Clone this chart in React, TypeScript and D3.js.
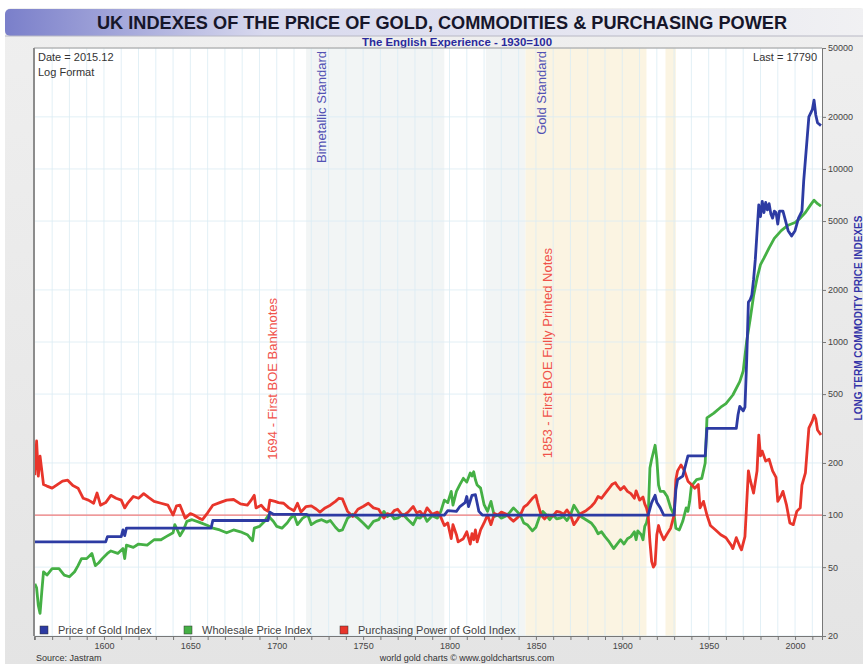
import React, { useEffect, useRef } from 'react';
import * as d3 from 'd3';

// [year, index value] readings, 1930 = 100
const goldIndex: [number, number][] = [
  [1560, 70], [1601, 70], [1602, 75], [1610, 75], [1611, 82], [1612, 76], [1613, 84], [1662, 84],
  [1663, 93], [1695, 93], [1696, 104], [1698, 101], [1717, 101], [1718, 100], [1797, 100],
  [1799, 106], [1804, 105], [1806, 112], [1809, 118], [1810, 128], [1811, 112], [1813, 130],
  [1815, 131], [1817, 105], [1819, 100], [1915, 100], [1917, 118], [1919, 130], [1920, 118],
  [1922, 110], [1924, 100], [1930, 100], [1931, 140], [1932, 160], [1935, 168], [1938, 220],
  [1948, 220], [1949, 317], [1966, 317], [1967, 380], [1968, 425], [1970, 400], [1971, 420],
  [1972, 780], [1973, 1700], [1974, 1750], [1975, 1870], [1976, 2300], [1977, 3000], [1979, 6200],
  [1980, 5300], [1981, 6500], [1982, 5600], [1983, 6400], [1984, 5800], [1985, 6300], [1986, 5500],
  [1987, 5200], [1988, 5700], [1989, 5600], [1990, 4800], [1991, 5700], [1993, 5700], [1996, 4400],
  [1998, 4100], [2000, 4400], [2002, 5200], [2004, 5700], [2005, 8500], [2007, 15000], [2008, 20000],
  [2010, 22000], [2011, 25000], [2012, 20500], [2013, 18500], [2015, 17800],
];

const wholesaleIndex: [number, number][] = [
  [1560, 40], [1561, 38], [1562, 30], [1563, 27], [1564, 36], [1565, 47], [1567, 45], [1570, 49],
  [1574, 49], [1577, 45], [1580, 44], [1583, 47], [1585, 51], [1587, 56], [1590, 56], [1593, 60],
  [1595, 51], [1597, 53], [1599, 56], [1602, 60], [1604, 62], [1608, 60], [1611, 64], [1612, 56],
  [1613, 67], [1617, 65], [1620, 68], [1625, 67], [1629, 72], [1633, 72], [1636, 75], [1640, 79],
  [1641, 88], [1644, 76], [1646, 82], [1648, 92], [1651, 94], [1655, 91], [1660, 87], [1663, 84],
  [1667, 82], [1671, 79], [1675, 82], [1679, 80], [1683, 77], [1686, 71], [1687, 84], [1690, 86],
  [1693, 92], [1695, 99], [1698, 92], [1700, 86], [1703, 84], [1706, 90], [1708, 96], [1710, 100],
  [1712, 88], [1715, 96], [1718, 100], [1720, 88], [1723, 92], [1726, 94], [1729, 91], [1731, 93],
  [1734, 85], [1736, 81], [1738, 82], [1741, 96], [1744, 101], [1747, 96], [1750, 90], [1753, 84],
  [1756, 92], [1759, 94], [1762, 105], [1764, 98], [1766, 101], [1768, 95], [1770, 96], [1773, 101],
  [1776, 94], [1779, 88], [1781, 97], [1783, 96], [1785, 101], [1787, 92], [1790, 99], [1793, 96],
  [1795, 105], [1797, 122], [1799, 118], [1801, 137], [1802, 114], [1804, 137], [1806, 150],
  [1808, 163], [1810, 155], [1812, 175], [1813, 168], [1814, 178], [1815, 160], [1816, 149],
  [1818, 143], [1820, 115], [1822, 105], [1824, 120], [1826, 98], [1828, 100], [1830, 96],
  [1833, 99], [1835, 104], [1837, 110], [1839, 105], [1841, 100], [1843, 90], [1845, 88], [1848, 81],
  [1850, 85], [1852, 97], [1854, 105], [1856, 100], [1858, 94], [1860, 100], [1862, 95], [1864, 96],
  [1866, 98], [1868, 93], [1870, 100], [1872, 114], [1874, 106], [1876, 98], [1879, 94], [1882, 90],
  [1884, 85], [1886, 78], [1888, 80], [1890, 75], [1892, 71], [1895, 64], [1897, 68], [1899, 72],
  [1901, 68], [1903, 73], [1905, 75], [1907, 80], [1908, 72], [1909, 81], [1911, 77], [1912, 72],
  [1913, 86], [1914, 90], [1915, 100], [1916, 187], [1917, 210], [1919, 253], [1920, 210],
  [1921, 149], [1922, 137], [1924, 137], [1926, 128], [1928, 110], [1930, 100], [1931, 84],
  [1933, 82], [1935, 92], [1937, 110], [1938, 105], [1939, 120], [1940, 147], [1943, 160],
  [1946, 163], [1948, 200], [1949, 364], [1953, 388], [1957, 420], [1960, 440], [1964, 494],
  [1968, 590], [1970, 680], [1972, 1010], [1974, 1350], [1976, 1850], [1978, 2340], [1980, 2800],
  [1982, 3050], [1985, 3500], [1988, 3970], [1992, 4400], [1996, 4730], [2000, 4900], [2003, 5200],
  [2006, 5600], [2009, 6200], [2011, 6600], [2013, 6300], [2015, 6100],
];

const purchasingPower: [number, number][] = [
  [1560, 170], [1561, 268], [1562, 168], [1563, 219], [1565, 150], [1567, 147], [1570, 143],
  [1573, 150], [1576, 157], [1579, 159], [1582, 148], [1585, 143], [1588, 125], [1591, 122],
  [1594, 117], [1596, 134], [1598, 114], [1601, 118], [1604, 130], [1607, 125], [1610, 122],
  [1612, 110], [1614, 118], [1617, 128], [1620, 125], [1623, 133], [1626, 126], [1629, 120],
  [1633, 117], [1637, 114], [1640, 100], [1642, 113], [1644, 114], [1647, 96], [1650, 102],
  [1652, 100], [1655, 96], [1657, 94], [1660, 103], [1663, 114], [1667, 118], [1671, 122],
  [1675, 123], [1679, 116], [1683, 114], [1685, 121], [1687, 130], [1688, 110], [1691, 114],
  [1693, 108], [1695, 105], [1696, 122], [1699, 120], [1701, 118], [1704, 117], [1707, 110],
  [1710, 106], [1712, 117], [1714, 104], [1717, 112], [1720, 113], [1723, 108], [1725, 104],
  [1728, 110], [1731, 114], [1734, 120], [1736, 125], [1738, 124], [1741, 105], [1744, 98],
  [1747, 108], [1750, 112], [1753, 117], [1756, 110], [1759, 108], [1762, 96], [1764, 102],
  [1766, 100], [1768, 106], [1770, 108], [1773, 99], [1776, 104], [1779, 112], [1781, 103],
  [1783, 105], [1785, 99], [1787, 110], [1790, 101], [1793, 104], [1795, 97], [1797, 87],
  [1799, 90], [1801, 73], [1802, 88], [1804, 77], [1805, 70], [1808, 73], [1810, 80], [1812, 68],
  [1813, 78], [1814, 72], [1815, 82], [1816, 70], [1818, 82], [1820, 90], [1822, 100], [1824, 88],
  [1826, 102], [1828, 100], [1830, 104], [1833, 101], [1835, 96], [1837, 92], [1839, 96],
  [1841, 100], [1843, 111], [1845, 115], [1848, 125], [1850, 130], [1851, 118], [1853, 100],
  [1855, 95], [1857, 100], [1860, 99], [1862, 105], [1864, 104], [1866, 101], [1868, 107],
  [1870, 100], [1872, 88], [1874, 94], [1876, 102], [1879, 106], [1882, 112], [1884, 118],
  [1886, 128], [1888, 125], [1890, 133], [1892, 141], [1894, 150], [1896, 154], [1897, 148],
  [1899, 140], [1901, 146], [1903, 137], [1905, 133], [1907, 125], [1908, 138], [1910, 122],
  [1912, 127], [1913, 116], [1914, 110], [1915, 100], [1916, 70], [1917, 54], [1918, 50],
  [1919, 52], [1920, 77], [1921, 87], [1922, 80], [1924, 72], [1926, 78], [1928, 84], [1930, 100],
  [1931, 160], [1932, 180], [1934, 195], [1936, 180], [1938, 157], [1940, 150], [1942, 143],
  [1944, 150], [1945, 110], [1947, 120], [1949, 100], [1951, 87], [1954, 82], [1957, 77],
  [1960, 74], [1963, 67], [1964, 64], [1966, 74], [1968, 66], [1969, 63], [1971, 75], [1973, 180],
  [1974, 160], [1976, 134], [1978, 180], [1979, 290], [1980, 220], [1981, 234], [1983, 205],
  [1985, 210], [1987, 180], [1989, 165], [1990, 120], [1992, 130], [1993, 137], [1995, 115],
  [1997, 90], [1999, 88], [2001, 105], [2003, 110], [2004, 149], [2006, 175], [2008, 318],
  [2010, 350], [2011, 378], [2012, 360], [2013, 310], [2015, 290],
];

const yTicks = [20, 50, 100, 200, 500, 1000, 2000, 5000, 10000, 20000, 50000];
const xLabelTicks = [1600, 1650, 1700, 1750, 1800, 1850, 1900, 1950, 2000];

// monetary regimes shaded behind the lines: [start, end, fill]
const regimes: [number, number, string][] = [
  [1717, 1797, '#f2f5f5'],
  [1821, 1844, '#f2f5f5'],
  [1844, 1914, '#fbf4e2'],
  [1925, 1931, '#fbf4e2'],
];

const regimeLabels: [number, string][] = [
  [1717, 'Bimetallic Standard'],
  [1844, 'Gold Standard'],
];

const events: [number, string][] = [
  [1694, '1694 - First BOE Banknotes'],
  [1853, '1853 - First BOE Fully Printed Notes'],
];

const legendItems = [
  { name: 'Price of Gold Index', color: '#2d3ba3' },
  { name: 'Wholesale Price Index', color: '#45b045' },
  { name: 'Purchasing Power of Gold Index', color: '#e8352b' },
];

const App = () => {
  const svgRef = useRef<SVGSVGElement>(null);

  useEffect(() => {
    const svg = d3.select(svgRef.current);
    svg.selectAll('*').remove();

    const W = 863, H = 664;
    const left = 34, right = 822, top = 48, bottom = 636;
    const font = '"Liberation Sans", Arial, sans-serif';

    const x = d3.scaleLinear().domain([1559.5, 2015.6]).range([left, right]);
    const y = d3.scaleLog().domain([20, 50000]).range([bottom, top]);

    const defs = svg.append('defs');
    const tg = defs.append('linearGradient').attr('id', 'titleGrad');
    tg.append('stop').attr('offset', '0%').attr('stop-color', '#7a7fca');
    tg.append('stop').attr('offset', '30%').attr('stop-color', '#d8d9ee');
    tg.append('stop').attr('offset', '100%').attr('stop-color', '#f1f1f3');
    const bg = defs.append('linearGradient').attr('id', 'frameGrad').attr('x2', 0).attr('y2', 1);
    bg.append('stop').attr('offset', '0%').attr('stop-color', '#efefef');
    bg.append('stop').attr('offset', '100%').attr('stop-color', '#e4e4e4');
    defs.append('clipPath').attr('id', 'plotClip')
      .append('rect').attr('x', left).attr('y', top).attr('width', right - left).attr('height', bottom - top);

    // frame + title bar
    svg.append('rect').attr('width', W).attr('height', H).attr('fill', '#ffffff');
    svg.append('rect').attr('x', 5).attr('y', 8).attr('width', W - 2).attr('height', H).attr('rx', 6)
      .attr('fill', 'url(#frameGrad)');
    svg.append('rect').attr('x', 5).attr('y', 9).attr('width', W).attr('height', 27).attr('rx', 5)
      .attr('fill', 'url(#titleGrad)');
    svg.append('line').attr('x1', 5).attr('x2', W).attr('y1', 36).attr('y2', 36)
      .attr('stroke', '#b8b8c4').attr('stroke-width', 1);

    svg.append('text').attr('x', 442).attr('y', 29).attr('text-anchor', 'middle')
      .attr('font-family', font).attr('font-weight', 'bold').attr('font-size', 18)
      .attr('fill', '#16162a').attr('textLength', 690).attr('lengthAdjust', 'spacingAndGlyphs')
      .text('UK INDEXES OF THE PRICE OF GOLD, COMMODITIES & PURCHASING POWER');
    svg.append('text').attr('x', 457).attr('y', 46).attr('text-anchor', 'middle')
      .attr('font-family', font).attr('font-weight', 'bold').attr('font-size', 11)
      .attr('fill', '#2a2a9c').attr('textLength', 190).attr('lengthAdjust', 'spacingAndGlyphs')
      .text('The English Experience - 1930=100');

    // plot background
    svg.append('rect').attr('x', left).attr('y', top).attr('width', right - left).attr('height', bottom - top)
      .attr('fill', '#ffffff');

    const plot = svg.append('g').attr('clip-path', 'url(#plotClip)');

    plot.selectAll('.regime').data(regimes).enter().append('rect')
      .attr('x', d => x(d[0])).attr('y', top)
      .attr('width', d => x(d[1]) - x(d[0])).attr('height', bottom - top)
      .attr('fill', d => d[2]);

    // grid
    plot.selectAll('.vgrid').data(d3.range(1570, 2016, 10)).enter().append('line')
      .attr('x1', d => x(d)).attr('x2', d => x(d)).attr('y1', top).attr('y2', bottom)
      .attr('stroke', '#dcedf5').attr('stroke-width', 1).attr('opacity', 0.8);
    plot.selectAll('.hgrid').data(yTicks).enter().append('line')
      .attr('x1', left).attr('x2', right).attr('y1', d => y(d)).attr('y2', d => y(d))
      .attr('stroke', '#dcedf5').attr('stroke-width', 1).attr('opacity', 0.8);

    // regime + event labels
    plot.selectAll('.rlabel').data(regimeLabels).enter().append('text')
      .attr('transform', d => `translate(${x(d[0]) + 20},${top + 3}) rotate(-90)`)
      .attr('text-anchor', 'end')
      .attr('font-family', font).attr('font-size', 13).attr('fill', '#5252b4')
      .text(d => d[1]);
    plot.selectAll('.elabel').data(events).enter().append('text')
      .attr('transform', d => `translate(${x(d[0]) + 11},${d[0] < 1800 ? 298 : 248}) rotate(-90)`)
      .attr('text-anchor', 'end')
      .attr('font-family', font).attr('font-size', 13).attr('fill', '#f0524a')
      .text(d => d[1]);

    // 100 reference line
    plot.append('line').attr('x1', left).attr('x2', right).attr('y1', y(100)).attr('y2', y(100))
      .attr('stroke', '#f07a7a').attr('stroke-width', 1.2);

    const line = d3.line<[number, number]>()
      .x(d => x(d[0]))
      .y(d => y(d[1]))
      .curve(d3.curveLinear);

    const series: [[number, number][], string][] = [
      [wholesaleIndex, legendItems[1].color],
      [purchasingPower, legendItems[2].color],
      [goldIndex, legendItems[0].color],
    ];
    plot.selectAll('.series').data(series).enter().append('path')
      .attr('d', d => line(d[0]))
      .attr('fill', 'none')
      .attr('stroke', d => d[1])
      .attr('stroke-width', 2.8)
      .attr('stroke-linejoin', 'round');

    // in-plot notes
    svg.append('text').attr('x', 38).attr('y', 61).attr('font-family', font).attr('font-size', 11)
      .attr('fill', '#333').text('Date = 2015.12');
    svg.append('text').attr('x', 38).attr('y', 76).attr('font-family', font).attr('font-size', 11)
      .attr('fill', '#333').text('Log Format');
    svg.append('text').attr('x', 817).attr('y', 61).attr('text-anchor', 'end').attr('font-family', font)
      .attr('font-size', 11).attr('fill', '#333').text('Last = 17790');

    // legend
    const lg = svg.append('g');
    const legendX = [40, 184, 340];
    legendItems.forEach((d, i) => {
      lg.append('rect').attr('x', legendX[i]).attr('y', 626).attr('width', 8).attr('height', 8)
        .attr('fill', d.color).attr('stroke', '#333').attr('stroke-width', 0.5);
      lg.append('text').attr('x', legendX[i] + 18).attr('y', 634).attr('font-family', font)
        .attr('font-size', 11).attr('fill', '#444').text(d.name);
    });

    // plot borders
    svg.append('line').attr('x1', left).attr('x2', right).attr('y1', top).attr('y2', top)
      .attr('stroke', '#9a9a9a').attr('stroke-width', 1);
    svg.append('line').attr('x1', left).attr('x2', left).attr('y1', top).attr('y2', bottom)
      .attr('stroke', '#8c8c8c').attr('stroke-width', 2);

    // right axis
    const yAxis = svg.append('g').attr('transform', `translate(${right},0)`)
      .call(d3.axisRight(y).tickValues(yTicks).tickFormat(d3.format('d')).tickSize(4).tickPadding(2));
    yAxis.select('.domain').attr('stroke', '#777');
    yAxis.selectAll('line').attr('stroke', '#777');
    yAxis.selectAll('text').attr('font-family', font).attr('font-size', 9).attr('fill', '#444');

    // bottom axis
    const xAxis = svg.append('g').attr('transform', `translate(0,${bottom})`)
      .call(d3.axisBottom(x).tickValues(d3.range(1560, 2016, 10)).tickSize(4)
        .tickFormat(d => (xLabelTicks.includes(+d) ? String(d) : '')));
    xAxis.select('.domain').attr('stroke', '#777');
    xAxis.selectAll('line').attr('stroke', '#777');
    xAxis.selectAll('text').attr('font-family', font).attr('font-size', 9).attr('fill', '#444');

    // right axis title, squeezed against the window edge
    svg.append('text').attr('transform', `translate(862,318) rotate(-90)`).attr('text-anchor', 'middle')
      .attr('font-family', font).attr('font-weight', 'bold').attr('font-size', 10).attr('fill', '#3434a8')
      .text('LONG TERM COMMODITY PRICE INDEXES');

    // footer
    svg.append('text').attr('x', 36).attr('y', 661).attr('font-family', font).attr('font-size', 9)
      .attr('fill', '#333').text('Source: Jastram');
    svg.append('text').attr('x', 467).attr('y', 661).attr('text-anchor', 'middle').attr('font-family', font)
      .attr('font-size', 9).attr('fill', '#333').text('world gold charts \u00a9 www.goldchartsrus.com');
  }, []);

  return (
    <svg ref={svgRef} width={863} height={664}
      style={{ position: 'absolute', left: 0, top: 0, display: 'block' }} />
  );
};

export default App;
